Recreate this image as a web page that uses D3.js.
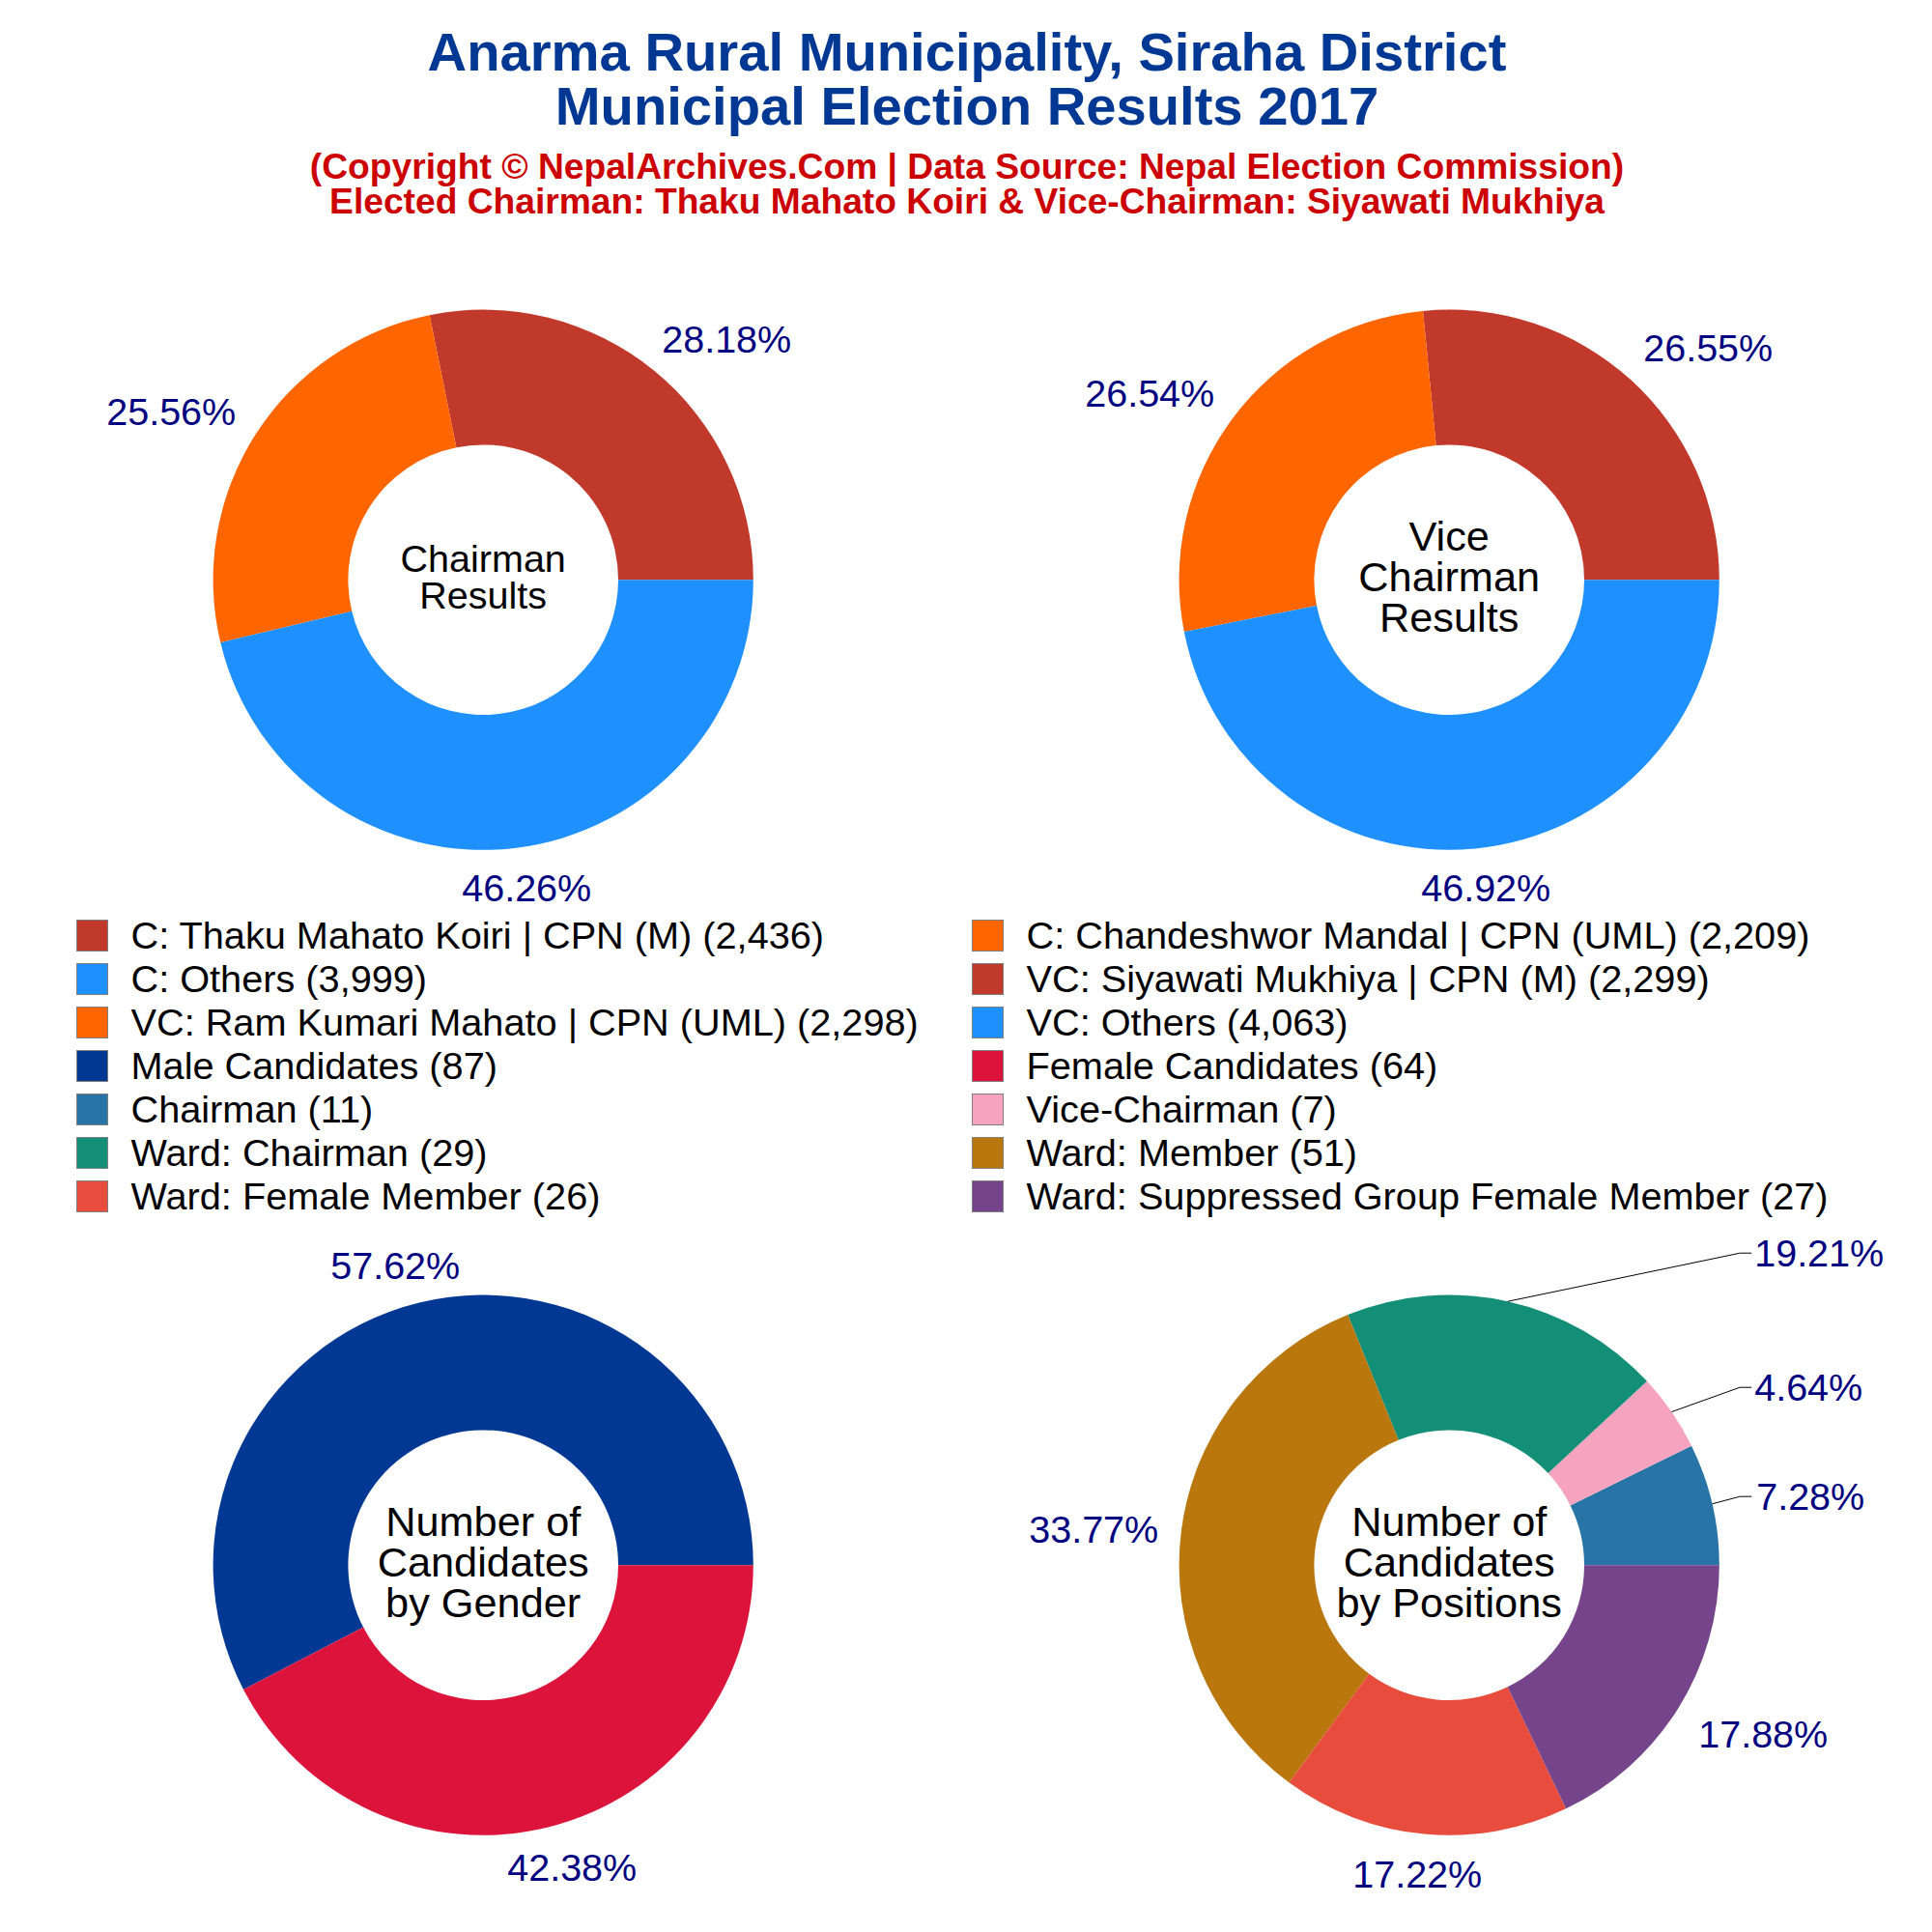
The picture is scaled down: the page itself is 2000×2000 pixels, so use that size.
<!DOCTYPE html>
<html>
<head>
<meta charset="utf-8">
<script src="https://cdn.jsdelivr.net/npm/d3@7"></script>
<style>
  html, body { margin: 0; padding: 0; background: #fff; }
  text { font-family: "Liberation Sans", Arial, sans-serif; }
</style>
</head>
<body>
<div id="chart"></div>
<script>
// chart values
var titleLines = ["Anarma Rural Municipality, Siraha District", "Municipal Election Results 2017"];
var subtitleLines = ["(Copyright © NepalArchives.Com | Data Source: Nepal Election Commission)",
    "Elected Chairman: Thaku Mahato Koiri & Vice-Chairman: Siyawati Mukhiya"];

var chairmanNames = ["C: Thaku Mahato Koiri | CPN (M)", "C: Chandeshwor Mandal | CPN (UML)", "C: Others"];
var chairmanVotes = [2436, 2209, 3999];
var chairmanColors = ["#C0392B", "#FF6600", "#1E90FF"];

var viceNames = ["VC: Siyawati Mukhiya | CPN (M)", "VC: Ram Kumari Mahato | CPN (UML)", "VC: Others"];
var viceVotes = [2299, 2298, 4063];
var viceColors = ["#C0392B", "#FF6600", "#1E90FF"];

var genderNames = ["Male Candidates", "Female Candidates"];
var genderCounts = [87, 64];
var genderColors = ["#003893", "#DC143C"];

var positionNames = ["Chairman", "Vice-Chairman", "Ward: Chairman", "Ward: Member", "Ward: Female Member", "Ward: Suppressed Group Female Member"];
var positionCounts = [11, 7, 29, 51, 26, 27];
var positionColors = ["#2874A6", "#F5A3BF", "#148F77", "#B9770E", "#E74C3C", "#76448A"];

// layout: label offsets are from the pie centre, elbows are the leader line heights
var pies = [
    { cx: 500.2, cy: 600.2, values: chairmanVotes, colors: chairmanColors, center: ["Chairman", "Results"], centerSize: 39.5, centerGap: 38,
      labels: [[252, -249], [-323, -174], [45, 319]] },
    { cx: 1500.2, cy: 600.2, values: viceVotes, colors: viceColors, center: ["Vice", "Chairman", "Results"], centerSize: 43.3, centerGap: 42,
      labels: [[268, -240], [-310, -193], [38, 319]] },
    { cx: 500.2, cy: 1620.2, values: genderCounts, colors: genderColors, center: ["Number of", "Candidates", "by Gender"], centerSize: 43.3, centerGap: 42,
      labels: [[-91, -310], [92, 313]] },
    { cx: 1500.2, cy: 1620.2, values: positionCounts, colors: positionColors, center: ["Number of", "Candidates", "by Positions"], centerSize: 43.3, centerGap: 42,
      labels: [[318, -71], [316, -184], [316, -323], [-368, -37], [-33, 320], [325, 175]],
      elbows: [-71, -184, -323] }
];

var width = 2000, height = 2000;
var outerR = 279.6, innerR = 139.8;

var svg = d3.select("#chart").append("svg")
    .attr("width", width)
    .attr("height", height);

svg.selectAll(".title")
    .data(titleLines)
    .enter().append("text")
    .attr("class", "title")
    .attr("x", 1001)
    .attr("y", function (d, i) { return 73 + i * 56; })
    .attr("text-anchor", "middle")
    .attr("font-size", 56.2)
    .attr("font-weight", "bold")
    .attr("fill", "#003893")
    .text(function (d) { return d; });

svg.selectAll(".subtitle")
    .data(subtitleLines)
    .enter().append("text")
    .attr("class", "subtitle")
    .attr("x", 1001)
    .attr("y", function (d, i) { return 184.5 + i * 36; })
    .attr("text-anchor", "middle")
    .attr("font-size", 37.2)
    .attr("font-weight", "bold")
    .attr("fill", "#CC0000")
    .text(function (d) { return d; });

// slices run anticlockwise from 3 o'clock
var pie = d3.pie().sort(null).startAngle(Math.PI / 2).endAngle(Math.PI / 2 - 2 * Math.PI);
var arc = d3.arc().innerRadius(innerR).outerRadius(outerR);
var pct = d3.format(".2f");

pies.forEach(function (p) {
    var total = d3.sum(p.values);
    var arcs = pie(p.values);
    var g = svg.append("g").attr("transform", "translate(" + p.cx + "," + p.cy + ")");

    g.selectAll(".slice")
        .data(arcs)
        .enter().append("path")
        .attr("class", "slice")
        .attr("d", arc)
        .attr("fill", function (d, i) { return p.colors[i]; });

    if (p.elbows) {
        var line = d3.line();
        g.selectAll(".leader")
            .data(arcs.slice(0, p.elbows.length))
            .enter().append("path")
            .attr("class", "leader")
            .attr("fill", "none")
            .attr("stroke", "#000")
            .attr("stroke-width", 1)
            .attr("d", function (d, i) {
                var a = (d.startAngle + d.endAngle) / 2;
                return line([[outerR * Math.sin(a), -outerR * Math.cos(a)], [301, p.elbows[i]], [313, p.elbows[i]]]);
            });
    }

    g.selectAll(".pct")
        .data(arcs)
        .enter().append("text")
        .attr("class", "pct")
        .attr("x", function (d, i) { return p.labels[i][0]; })
        .attr("y", function (d, i) { return p.labels[i][1]; })
        .attr("dy", "0.35em")
        .attr("text-anchor", function (d, i) { return p.elbows && i < p.elbows.length ? "start" : "middle"; })
        .attr("font-size", 39.5)
        .attr("fill", "#000080")
        .text(function (d) { return pct(d.value / total * 100) + "%"; });

    var top = -(p.center.length - 1) * p.centerGap / 2 - 3.5;
    g.selectAll(".center")
        .data(p.center)
        .enter().append("text")
        .attr("class", "center")
        .attr("y", function (d, i) { return top + i * p.centerGap; })
        .attr("dy", "0.35em")
        .attr("text-anchor", "middle")
        .attr("font-size", p.centerSize)
        .attr("fill", "#000")
        .text(function (d) { return d; });
});

// legend, filled row by row over two columns
var legendNames = chairmanNames.concat(viceNames, genderNames, positionNames);
var legendValues = chairmanVotes.concat(viceVotes, genderCounts, positionCounts);
var legendColors = chairmanColors.concat(viceColors, genderColors, positionColors);
var num = d3.format(",");

var legend = svg.selectAll(".legend")
    .data(legendNames)
    .enter().append("g")
    .attr("class", "legend")
    .attr("transform", function (d, i) {
        return "translate(" + (i % 2 ? 1006 : 79) + "," + (952 + Math.floor(i / 2) * 45) + ")";
    });

legend.append("rect")
    .attr("x", 0.5)
    .attr("y", 0.5)
    .attr("width", 32)
    .attr("height", 32)
    .attr("fill", function (d, i) { return legendColors[i]; })
    .attr("stroke", "#7f7f7f");

legend.append("text")
    .attr("x", 56.5)
    .attr("y", 16)
    .attr("dy", "0.35em")
    .attr("font-size", 39.7)
    .attr("fill", "#000")
    .text(function (d, i) { return d + " (" + num(legendValues[i]) + ")"; });
</script>
</body>
</html>
